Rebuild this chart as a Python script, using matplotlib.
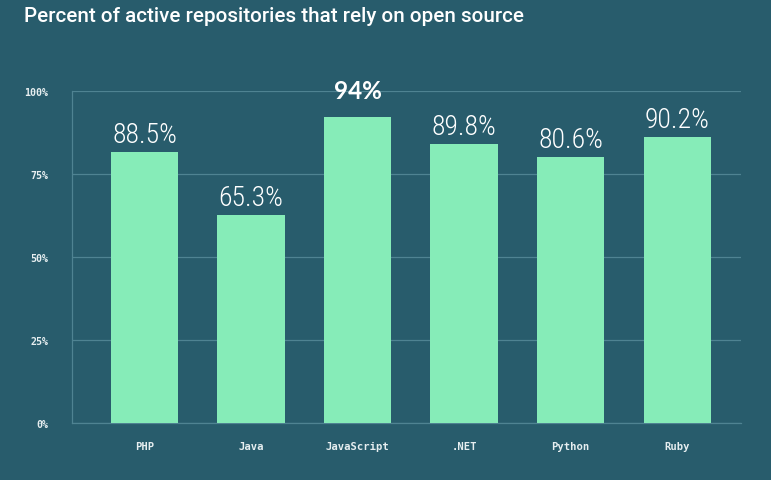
import matplotlib
matplotlib.use("Agg")
import matplotlib.pyplot as plt

categories = ["PHP", "Java", "JavaScript", ".NET", "Python", "Ruby"]
bar_values = [81.7, 62.7, 92.3, 84.0, 80.0, 86.2]
value_labels = ["88.5%", "65.3%", "94%", "89.8%", "80.6%", "90.2%"]
yticks = [0, 25, 50, 75, 100]
ytick_labels = ["0%", "25%", "50%", "75%", "100%"]
highlight = "JavaScript"
title = "Percent of active repositories that rely on open source"

BG = "#285c6c"
BAR = "#86ecb8"
GRID = "#4f8392"
TXT = "#ffffff"
TICK = "#e6eef0"

fig = plt.figure(figsize=(7.71, 4.81), dpi=100)
fig.patch.set_facecolor(BG)
ax = fig.add_axes([72 / 771, 1 - 424 / 481, 669 / 771, 332 / 481])
ax.set_facecolor(BG)

x = list(range(len(categories)))
ax.bar(x, bar_values, width=0.63, color=BAR, zorder=3)
ax.set_xlim(-0.68, 5.6)
ax.set_ylim(0, 100)

ax.set_yticks(yticks)
ax.set_yticklabels(ytick_labels)
ax.set_xticks(x)
ax.set_xticklabels(categories)
ax.tick_params(axis="both", length=0, colors=TICK)
ax.tick_params(axis="y", pad=17)
ax.tick_params(axis="x", pad=13)
for lab in ax.get_xticklabels() + ax.get_yticklabels():
    lab.set_fontfamily("DejaVu Sans Mono")
    lab.set_fontweight("bold")
    lab.set_fontsize(7.6)
for lab in ax.get_yticklabels():
    lab.set_fontsize(7.2)

ax.grid(axis="y", color=GRID, linewidth=0.9, zorder=0)
for s in ["top", "right"]:
    ax.spines[s].set_visible(False)
for s in ["left", "bottom"]:
    ax.spines[s].set_color(GRID)
    ax.spines[s].set_linewidth(0.9)

for xi, v, lab, cat in zip(x, bar_values, value_labels, categories):
    if cat == highlight:
        ax.annotate(lab, (xi, v), xytext=(0, 13.7), textcoords="offset points",
                    ha="center", va="baseline", color=TXT, fontsize=17.5,
                    fontweight="bold", family="Lato")
    else:
        ax.annotate(lab, (xi, v), xytext=(0, 7.2), textcoords="offset points",
                    ha="center", va="baseline", color=TXT, fontsize=20,
                    fontweight="light", fontstretch="condensed",
                    family="Roboto Condensed")

t = fig.text(24 / 771, 1 - 22 / 481, title, color=TXT, fontsize=15,
             family="Roboto", fontweight="medium",
             va="baseline", ha="left")
fig.canvas.draw()
w = t.get_window_extent().width
t.set_fontsize(15 * 503 / w)

fig.savefig("out.png", dpi=100, facecolor=BG)
